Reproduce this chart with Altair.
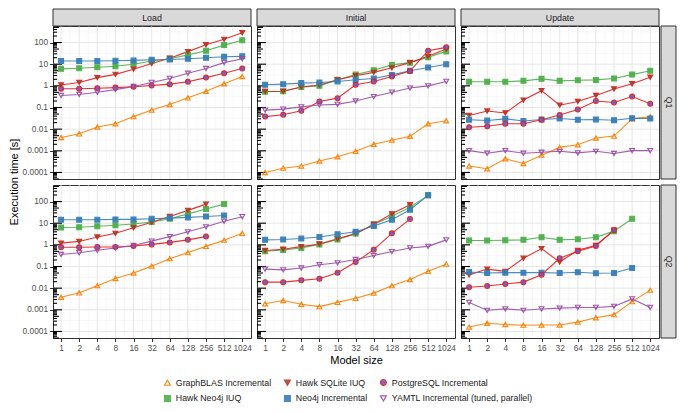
import math
import altair as alt
import pandas as pd

SIZES = [1, 2, 4, 8, 16, 32, 64, 128, 256, 512, 1024]
PHASES = ["Load", "Initial", "Update"]
QUERIES = ["Q1", "Q2"]
Y_LABELS = [0.0001, 0.001, 0.01, 0.1, 1, 10, 100]

# legend order (row-major, 3 columns) reproduces ggplot's column-major 2-row legend
SERIES = ["GraphBLAS Incremental", "Hawk SQLite IUQ", "PostgreSQL Incremental",
          "Hawk Neo4j IUQ", "Neo4j Incremental", "YAMTL Incremental (tuned, parallel)"]
COLORS = ["#FF7F00", "#E41A1C", "#E41A1C", "#4DAF4A", "#377EB8", "#984EA3"]
FILLS = ["transparent", "#3d7a27", "#6a5fcb", "#4DAF4A", "#377EB8", "transparent"]
SHAPES = ["triangle-up", "triangle-down", "circle", "square", "square", "triangle-down"]

Q1_LOAD = {
    "GraphBLAS Incremental": [0.0041, 0.0061, 0.0126, 0.0178, 0.038, 0.076, 0.137, 0.28, 0.56, 1.25, 2.7],
    "Hawk Neo4j IUQ": [6.1, 6.5, 7.2, 8.1, 9.9, 14, 17.7, 27, 42, 76, 127],
    "Hawk SQLite IUQ": [1.1, 1.44, 2.4, 3.4, 5.9, 10.7, 19, 38, 79, 141, 282],
    "Neo4j Incremental": [14, 14, 14, 14.4, 15, 16, 16.5, 17.8, 19.7, 21.9, 23],
    "PostgreSQL Incremental": [0.74, 0.74, 0.77, 0.83, 0.91, 1.03, 1.2, 1.54, 2.4, 3.8, 6.3],
    "YAMTL Incremental (tuned, parallel)": [0.36, 0.40, 0.51, 0.67, 0.94, 1.44, 2.2, 3.8, 6.3, 11.8, 17.8],
}
Q1_INITIAL = {
    "GraphBLAS Incremental": [0.0001, 0.000158, 0.0002, 0.00034, 0.00053, 0.00095, 0.002, 0.0031, 0.0047, 0.0178, 0.0245],
    "Hawk Neo4j IUQ": [0.53, 0.56, 0.89, 1.0, 1.9, 3.3, 5.3, 9.3, 11.8, 21, 39],
    "Hawk SQLite IUQ": [0.55, 0.56, 0.89, 1.1, 1.9, 2.95, 4.2, 6.8, 11.8, 23, 50],
    "Neo4j Incremental": [1.12, 1.2, 1.34, 1.43, 1.6, 1.9, 2.2, 3.2, 5.0, 7.0, 10],
    "PostgreSQL Incremental": [0.038, 0.046, 0.071, 0.19, 0.27, 1.12, 1.6, 2.7, 4.8, 42, 60],
    "YAMTL Incremental (tuned, parallel)": [0.076, 0.084, 0.107, 0.13, 0.14, 0.2, 0.32, 0.51, 0.79, 1.0, 1.6],
}
Q1_UPDATE = {
    "GraphBLAS Incremental": [0.0002, 0.000148, 0.00043, 0.00026, 0.00063, 0.00144, 0.0019, 0.0039, 0.0048, 0.030, 0.038],
    "Hawk Neo4j IUQ": [1.54, 1.54, 1.54, 1.7, 2.1, 1.7, 1.8, 1.88, 2.2, 3.3, 5.0],
    "Hawk SQLite IUQ": [0.043, 0.069, 0.056, 0.22, 0.60, 0.128, 0.19, 0.36, 0.72, 1.25, 2.5],
    "Neo4j Incremental": [0.027, 0.025, 0.030, 0.024, 0.028, 0.031, 0.027, 0.028, 0.026, 0.032, 0.031],
    "PostgreSQL Incremental": [0.0122, 0.0136, 0.0178, 0.0178, 0.027, 0.045, 0.081, 0.2, 0.17, 0.32, 0.15],
    "YAMTL Incremental (tuned, parallel)": [0.00102, 0.00077, 0.00102, 0.00077, 0.00086, 0.00095, 0.0008, 0.00095, 0.00075, 0.00102, 0.00102],
}
Q2_LOAD = {
    "GraphBLAS Incremental": [0.0038, 0.0061, 0.013, 0.028, 0.05, 0.104, 0.23, 0.44, 0.85, 1.64, 3.4],
    "Hawk Neo4j IUQ": [6.3, 6.5, 7.2, 8.1, 9.2, 11.4, 16, 27, 45, 76],
    "Hawk SQLite IUQ": [1.2, 1.44, 2.3, 3.4, 6.1, 11, 20.4, 39, 76],
    "Neo4j Incremental": [14.5, 14.5, 14.5, 15, 15, 16, 17.2, 18.5, 20.5, 22.7],
    "PostgreSQL Incremental": [0.77, 0.77, 0.8, 0.8, 0.89, 1.05, 1.3, 1.7, 2.4],
    "YAMTL Incremental (tuned, parallel)": [0.36, 0.43, 0.56, 0.72, 0.94, 1.49, 2.4, 4.0, 6.8, 12.2, 20],
}
Q2_INITIAL = {
    "GraphBLAS Incremental": [0.0019, 0.0027, 0.0018, 0.0014, 0.0022, 0.0034, 0.0059, 0.013, 0.025, 0.060, 0.128],
    "Hawk Neo4j IUQ": [0.51, 0.58, 0.72, 1.05, 1.76, 3.3, 8.6, 21, 54, 193],
    "Hawk SQLite IUQ": [0.55, 0.63, 0.83, 1.09, 1.9, 3.3, 8.9, 27, 71],
    "Neo4j Incremental": [1.7, 1.77, 1.95, 2.3, 3.1, 4.0, 7.5, 14.5, 42, 193],
    "PostgreSQL Incremental": [0.019, 0.019, 0.023, 0.027, 0.052, 0.16, 0.6, 3.4, 15.5],
    "YAMTL Incremental (tuned, parallel)": [0.076, 0.07, 0.085, 0.12, 0.148, 0.21, 0.32, 0.49, 0.72, 0.85, 1.7],
}
Q2_UPDATE = {
    "GraphBLAS Incremental": [0.00016, 0.00024, 0.00021, 0.000195, 0.0002, 0.0002, 0.00027, 0.00043, 0.0006, 0.0024, 0.0081],
    "Hawk Neo4j IUQ": [1.58, 1.58, 1.64, 1.7, 2.24, 1.7, 1.8, 2.24, 4.3, 16],
    "Hawk SQLite IUQ": [0.041, 0.076, 0.06, 0.24, 0.67, 0.16, 0.56, 0.95, 4.8],
    "Neo4j Incremental": [0.056, 0.05, 0.052, 0.052, 0.052, 0.05, 0.054, 0.049, 0.05, 0.085],
    "PostgreSQL Incremental": [0.011, 0.0126, 0.0155, 0.019, 0.042, 0.24, 0.51, 0.89, 4.8],
    "YAMTL Incremental (tuned, parallel)": [0.0022, 0.00095, 0.0011, 0.00095, 0.0011, 0.0012, 0.00129, 0.00129, 0.00144, 0.0032, 0.00129],
}

PANELS = {
    ("Q1", "Load"): Q1_LOAD, ("Q1", "Initial"): Q1_INITIAL, ("Q1", "Update"): Q1_UPDATE,
    ("Q2", "Load"): Q2_LOAD, ("Q2", "Initial"): Q2_INITIAL, ("Q2", "Update"): Q2_UPDATE,
}

rows = []
for (q, p), d in PANELS.items():
    for s, vals in d.items():
        for size, v in zip(SIZES, vals):
            rows.append({"query": q, "phase": p, "series": s, "size": size, "time": v})
df = pd.DataFrame(rows)

# layout constants
W, H = 198, 153
XDOM = [0.734, 1432]
YDOM = [5e-5, 580]
FONT = "Liberation Sans"
LBL = 8.3

# grid / log-tick positions (decoration)
xgrid_major = pd.DataFrame({"v": SIZES})
xgrid_minor = pd.DataFrame({"v": [2 ** (k + 0.5) for k in range(0, 10)]})
ygrid_major = pd.DataFrame({"v": [10.0 ** k for k in range(-4, 3)]})
ygrid_minor = pd.DataFrame({"v": [10.0 ** (k + 0.5) for k in range(-5, 3)
                                  if YDOM[0] <= 10.0 ** (k + 0.5) <= YDOM[1]]})
lt_long, lt_mid, lt_short = [], [], []
for k in range(-5, 3):
    for m in range(1, 10):
        v = m * 10.0 ** k
        if YDOM[0] <= v <= YDOM[1]:
            (lt_long if m == 1 else lt_mid if m == 5 else lt_short).append(v)
lt_long = pd.DataFrame({"v": lt_long})
lt_mid = pd.DataFrame({"v": lt_mid})
lt_short = pd.DataFrame({"v": lt_short})

leg = alt.Legend(title=None, orient="none", legendX=110, legendY=352, direction="horizontal",
                 columns=3, labelFontSize=8.8, labelColor="#1a1a1a", labelFont=FONT,
                 symbolSize=34, symbolStrokeWidth=1.2, columnPadding=10, rowPadding=5,
                 labelLimit=300)
color_enc = alt.Color("series:N", scale=alt.Scale(domain=SERIES, range=COLORS), legend=leg)
fill_enc = alt.Fill("series:N", scale=alt.Scale(domain=SERIES, range=FILLS), legend=leg)
shape_enc = alt.Shape("series:N", scale=alt.Scale(domain=SERIES, range=SHAPES), legend=leg)


def panel(qi, pi):
    q, p = QUERIES[qi], PHASES[pi]
    sub = df[(df["query"] == q) & (df["phase"] == p)]
    xs = alt.Scale(type="log", base=2, domain=XDOM, nice=False)
    ys = alt.Scale(type="log", domain=YDOM, nice=False)
    if pi == 0:
        yaxis = alt.Axis(values=Y_LABELS, format=".4~f", title=None, grid=False, domain=False,
                         tickSize=3.5, tickColor="#333333", labelFontSize=LBL, labelColor="#4d4d4d",
                         labelPadding=2, labelFont=FONT)
    else:
        yaxis = None
    if qi == 1:
        xaxis = alt.Axis(values=SIZES, format="d", title="Model size" if pi == 1 else None,
                         grid=False, domain=False, tickSize=3.5, tickColor="#333333",
                         labelFontSize=LBL, labelColor="#4d4d4d", labelPadding=2,
                         labelFlush=False, labelOverlap=False, labelFont=FONT,
                         titleFontSize=11, titleFont=FONT, titleFontWeight="normal",
                         titleColor="black", titlePadding=3)
    else:
        xaxis = None

    def X(f):
        return alt.X(f"{f}:Q", scale=xs, axis=xaxis)

    def Y(f):
        return alt.Y(f"{f}:Q", scale=ys, axis=yaxis)

    layers = [
        alt.Chart(xgrid_minor).mark_rule(color="#f2f2f2", strokeWidth=0.6).encode(
            x=X("v"), y=alt.value(0), y2=alt.value(H)),
        alt.Chart(ygrid_minor).mark_rule(color="#f2f2f2", strokeWidth=0.6).encode(
            y=Y("v"), x=alt.value(0), x2=alt.value(W)),
        alt.Chart(xgrid_major).mark_rule(color="#e6e6e6", strokeWidth=1).encode(
            x=X("v"), y=alt.value(0), y2=alt.value(H)),
        alt.Chart(ygrid_major).mark_rule(color="#e6e6e6", strokeWidth=1).encode(
            y=Y("v"), x=alt.value(0), x2=alt.value(W)),
        alt.Chart(lt_long).mark_rule(color="black", strokeWidth=1.1).encode(
            y=Y("v"), x=alt.value(0), x2=alt.value(9)),
        alt.Chart(lt_mid).mark_rule(color="black", strokeWidth=1.1).encode(
            y=Y("v"), x=alt.value(0), x2=alt.value(6)),
        alt.Chart(lt_short).mark_rule(color="black", strokeWidth=1.1).encode(
            y=Y("v"), x=alt.value(0), x2=alt.value(4)),
        alt.Chart(sub).mark_line(strokeWidth=1.1, opacity=0.9).encode(
            x=X("size"), y=Y("time"), color=color_enc),
        alt.Chart(sub).mark_point(size=24, strokeWidth=1.1, opacity=0.95).encode(
            x=X("size"), y=Y("time"), color=color_enc, fill=fill_enc, shape=shape_enc),
    ]
    if qi == 0:
        strip = alt.Data(values=[{"t": p}])
        layers.append(alt.Chart(strip).mark_rect(fill="#d9d9d9", stroke="#333333", strokeWidth=1).encode(
            x=alt.value(0), x2=alt.value(W), y=alt.value(-17), y2=alt.value(0)))
        layers.append(alt.Chart(strip).mark_text(fontSize=8.8, color="#1a1a1a", font=FONT).encode(
            x=alt.value(W / 2), y=alt.value(-8.5), text="t:N"))
    if pi == 2:
        strip = alt.Data(values=[{"t": q}])
        layers.append(alt.Chart(strip).mark_rect(fill="#d9d9d9", stroke="#333333", strokeWidth=1).encode(
            x=alt.value(W + 2), x2=alt.value(W + 17), y=alt.value(0), y2=alt.value(H)))
        layers.append(alt.Chart(strip).mark_text(fontSize=8.8, color="#1a1a1a", font=FONT, angle=90).encode(
            x=alt.value(W + 9.5), y=alt.value(H / 2), text="t:N"))
    if qi == 0 and pi == 0:
        ttl = alt.Data(values=[{"t": "Execution time [s]"}])
        layers.append(alt.Chart(ttl).mark_text(fontSize=11, color="black", font=FONT, angle=270).encode(
            x=alt.value(-38), y=alt.value(H + 3), text="t:N"))
    return alt.layer(*layers).properties(width=W, height=H)


charts = [panel(qi, pi) for qi in range(2) for pi in range(3)]

chart = alt.concat(*charts, columns=3, spacing=6, bounds="flush").properties(
    padding={"left": 0, "top": 0, "right": 0, "bottom": 0}
).configure(font=FONT).configure_view(stroke="#333333", strokeWidth=1)

chart.save("out.html", embed_options={"renderer": "svg", "actions": False})
